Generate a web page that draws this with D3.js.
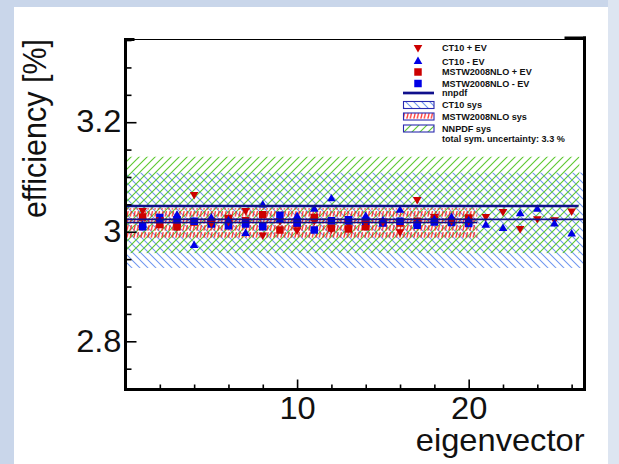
<!DOCTYPE html>
<html><head><meta charset="utf-8">
<script src="https://cdn.jsdelivr.net/npm/d3@7"></script>
<style>body{margin:0;background:#fff}svg{display:block}</style>
</head><body><svg id="c" width="619" height="464"></svg>
<script>
// ---------- data ----------
const ct10Index = [1,2,3,4,5,6,7,8,9,10,11,12,13,14,15,16,17,18,19,20,21,22,23,24,25,26];
const ct10Plus  = [3.039,3.022,3.009,3.068,3.016,3.019,3.039,2.994,3.020,3.003,3.020,3.005,3.014,3.016,3.018,3.000,3.059,3.028,3.020,3.020,3.028,3.037,3.006,3.024,3.022,3.038];
const ct10Minus = [3.012,3.020,3.030,2.975,3.025,3.020,2.997,3.049,3.022,3.028,3.041,3.060,3.018,3.028,3.020,3.039,3.015,3.022,3.026,3.020,3.012,3.006,3.033,3.041,3.014,2.996];
const mstwIndex = [1,2,3,4,5,6,7,8,9,10,11,12,13,14,15,16,17,18,19,20];
const mstwPlus  = [3.027,3.013,3.009,3.018,3.019,3.024,3.020,3.031,3.003,3.014,3.026,3.007,3.005,3.009,3.018,3.016,3.019,3.022,3.020,3.025];
const mstwMinus = [3.009,3.026,3.022,3.019,3.014,3.011,3.014,3.009,3.030,3.016,3.003,3.020,3.022,3.019,3.016,3.019,3.012,3.018,3.017,3.015];
// bands: [low, high] and x extent [from, to]
const ct10Band  = [2.934, 3.108]; const ct10BandX  = [0, 26.75];
const nnpdfBand = [2.961, 3.137]; const nnpdfBandX = [0, 26.45];
const mstwBand  = [2.988, 3.043]; const mstwBandX  = [0, 20.5];
// central lines
const nnpdfCentral = 3.047; const nnpdfLineX = [0, 26.4];
const ct10Central  = 3.0226; const ct10LineX = [0, 26.75];
const mstwCentral  = 3.0168; const mstwLineX = [0, 20.5];
// axes
const xDomain = [0, 26.75];
const yDomain = [2.712, 3.351];
const xMajor = [10, 20];
const xMinor = [2,4,6,8,12,14,16,18,22,24,26];
const yMajor = [2.8, 3.0, 3.2];
const yMajorLabels = ["2.8", "3", "3.2"];
const yMinor = [2.75,2.85,2.9,2.95,3.05,3.1,3.15,3.25,3.3,3.35];
const legendLabels = ["CT10 + EV","CT10 - EV","MSTW2008NLO + EV","MSTW2008NLO - EV","nnpdf","CT10 sys","MSTW2008NLO sys","NNPDF sys","total sym. uncertainty: 3.3 %"];

// ---------- styles ----------
const RED = "#cc0000", BLUE = "#0000e6", NAVY = "#10108c";
const FONT = "'Liberation Sans', Arial, Helvetica, sans-serif";
const BIG = 30.5, SX = 1.07;

const svg = d3.select("#c");
svg.append("rect").attr("width",619).attr("height",464).attr("fill","#c9d6ea");
svg.append("rect").attr("x",608).attr("y",0).attr("width",11).attr("height",464).attr("fill","#dde5f1");
svg.append("rect").attr("x",14).attr("y",7).attr("width",594).attr("height",457).attr("fill","#ffffff");

const L = 125.5, R = 584.5, T = 39.5, B = 389.5;
const x = d3.scaleLinear().domain(xDomain).range([L, R]);
const y = d3.scaleLinear().domain(yDomain).range([B, T]);

const defs = svg.append("defs");
defs.append("clipPath").attr("id","clip").append("rect")
  .attr("x",L+1).attr("y",T).attr("width",R-L-2).attr("height",B-T);
const pCT = defs.append("pattern").attr("id","pCT").attr("patternUnits","userSpaceOnUse").attr("width",8).attr("height",8);
pCT.append("path").attr("d","M0,0L8,8M-1,7L1,9M7,-1L9,1").attr("stroke","#6f96f0").attr("stroke-width",1.05).attr("fill","none");
const pNN = defs.append("pattern").attr("id","pNN").attr("patternUnits","userSpaceOnUse").attr("width",8).attr("height",8);
pNN.append("path").attr("d","M0,8L8,0M-1,1L1,-1M7,9L9,7").attr("stroke","#5fc832").attr("stroke-width",1.15).attr("fill","none");
const pMS = defs.append("pattern").attr("id","pMS").attr("patternUnits","userSpaceOnUse").attr("width",3.5).attr("height",7);
pMS.append("path").attr("d","M0.8,6.6L2.1,1.2").attr("stroke","#ff1a1a").attr("stroke-width",1.2).attr("fill","none");

const plot = svg.append("g").attr("clip-path","url(#clip)");
function band(b, bx, pat){
  plot.append("rect").attr("x",x(bx[0])).attr("width",x(bx[1])-x(bx[0]))
    .attr("y",y(b[1])).attr("height",y(b[0])-y(b[1])).attr("fill","url(#"+pat+")");
}
band(ct10Band, ct10BandX, "pCT");
band(nnpdfBand, nnpdfBandX, "pNN");
band(mstwBand, mstwBandX, "pMS");

// markers
const tri = d3.symbol().type(d3.symbolTriangle).size(32);
const sq = d3.symbol().type(d3.symbolSquare).size(56);
plot.selectAll(".ms").data(mstwIndex.map((d,i)=>[d,mstwPlus[i]])).join("path")
  .attr("d",sq()).attr("fill",RED).attr("transform",d=>`translate(${x(d[0])},${y(d[1])})`);
plot.selectAll(".mm").data(mstwIndex.map((d,i)=>[d,mstwMinus[i]])).join("path")
  .attr("d",sq()).attr("fill",BLUE).attr("transform",d=>`translate(${x(d[0])},${y(d[1])})`);
plot.selectAll(".cp").data(ct10Index.map((d,i)=>[d,ct10Plus[i]])).join("path")
  .attr("d",tri()).attr("fill",RED).attr("transform",d=>`translate(${x(d[0])},${y(d[1])}) rotate(180)`);
plot.selectAll(".cm").data(ct10Index.map((d,i)=>[d,ct10Minus[i]])).join("path")
  .attr("d",tri()).attr("fill",BLUE).attr("transform",d=>`translate(${x(d[0])},${y(d[1])})`);

function hline(v, ext, w){
  plot.append("line").attr("x1",x(ext[0])).attr("x2",x(ext[1])).attr("y1",y(v)).attr("y2",y(v))
    .attr("stroke",NAVY).attr("stroke-width",w);
}
hline(nnpdfCentral, nnpdfLineX, 2.7);
hline(ct10Central, ct10LineX, 1.6);
hline(mstwCentral, mstwLineX, 1.5);

// axes
const yAx = svg.append("g").attr("transform",`translate(${L},0)`)
  .call(d3.axisLeft(y).tickValues(yMajor).tickSize(-11).tickPadding(4).tickFormat((d,i)=>yMajorLabels[i]));
const yAxMin = svg.append("g").attr("transform",`translate(${L},0)`)
  .call(d3.axisLeft(y).tickValues(yMinor).tickSize(-6).tickFormat(""));
const xAx = svg.append("g").attr("transform",`translate(0,${B})`)
  .call(d3.axisBottom(x).tickValues(xMajor).tickSize(-10).tickPadding(8).tickFormat(d3.format("d")));
const xAxMin = svg.append("g").attr("transform",`translate(0,${B})`)
  .call(d3.axisBottom(x).tickValues(xMinor).tickSize(-5).tickFormat(""));
[yAx,yAxMin,xAx,xAxMin].forEach(g=>{
  g.select(".domain").remove();
  g.selectAll(".tick line").attr("stroke","#000").attr("stroke-width",1.6);
  g.selectAll("text").attr("font-family",FONT).attr("font-size",BIG).attr("fill","#111");
});
yAx.selectAll(".tick text").attr("transform",function(){const xx=+d3.select(this).attr("x");return `translate(${xx},0) scale(${SX},1) translate(${-xx},0)`;});
xAx.selectAll(".tick text").attr("transform",`scale(${SX},1)`);

// frame
const fr = svg.append("g").attr("stroke","#000").attr("fill","none");
fr.append("line").attr("x1",L).attr("x2",L).attr("y1",T-1.5).attr("y2",B+1.5).attr("stroke-width",3);
fr.append("line").attr("x1",L-1.5).attr("x2",R+1.5).attr("y1",B).attr("y2",B).attr("stroke-width",3);
fr.append("line").attr("x1",R).attr("x2",R).attr("y1",T-3).attr("y2",B+1.5).attr("stroke-width",3);
fr.append("line").attr("x1",L).attr("x2",R).attr("y1",T).attr("y2",T).attr("stroke-width",1.2);
fr.append("line").attr("x1",L-1.5).attr("x2",L+9).attr("y1",T).attr("y2",T).attr("stroke-width",3);
fr.append("line").attr("x1",R-20).attr("x2",R+1.5).attr("y1",T-1.5).attr("y2",T-1.5).attr("stroke-width",3);

// axis titles
svg.append("text").attr("transform",`translate(${R},451) scale(${SX},1)`).attr("text-anchor","end")
  .attr("font-family",FONT).attr("font-size",BIG).attr("fill","#111").text("eigenvector");
svg.append("text").attr("transform",`translate(46,39) rotate(-90) scale(1,${SX})`).attr("text-anchor","end")
  .attr("font-family",FONT).attr("font-size",BIG).attr("fill","#111").text("efficiency [%]");

// legend
const lg = svg.append("g");
const rowY = [47.5, 61.5, 72, 83.5, 93, 105, 116.5, 128.5, 139];
lg.selectAll("text").data(legendLabels).join("text")
  .attr("x",442).attr("y",(d,i)=>rowY[i]+3.3).attr("font-family",FONT).attr("font-weight","bold")
  .attr("font-size",9.1).attr("fill","#111").text(d=>d);
const mx = 418;
lg.append("path").attr("d",tri()).attr("fill",RED).attr("transform",`translate(${mx},${rowY[0]}) rotate(180)`);
lg.append("path").attr("d",tri()).attr("fill",BLUE).attr("transform",`translate(${mx},${rowY[1]})`);
lg.append("path").attr("d",sq()).attr("fill",RED).attr("transform",`translate(${mx},${rowY[2]})`);
lg.append("path").attr("d",sq()).attr("fill",BLUE).attr("transform",`translate(${mx},${rowY[3]})`);
lg.append("line").attr("x1",403).attr("x2",434).attr("y1",rowY[4]).attr("y2",rowY[4]).attr("stroke",NAVY).attr("stroke-width",2.7);
[["pCT",5],["pMS",6],["pNN",7]].forEach(([p,i])=>{
  lg.append("rect").attr("x",403.5).attr("y",rowY[i]-3.5).attr("width",30.5).attr("height",7)
    .attr("fill","url(#"+p+")").attr("stroke","#2a2ab0").attr("stroke-width",1.1);
});
</script></body></html>
